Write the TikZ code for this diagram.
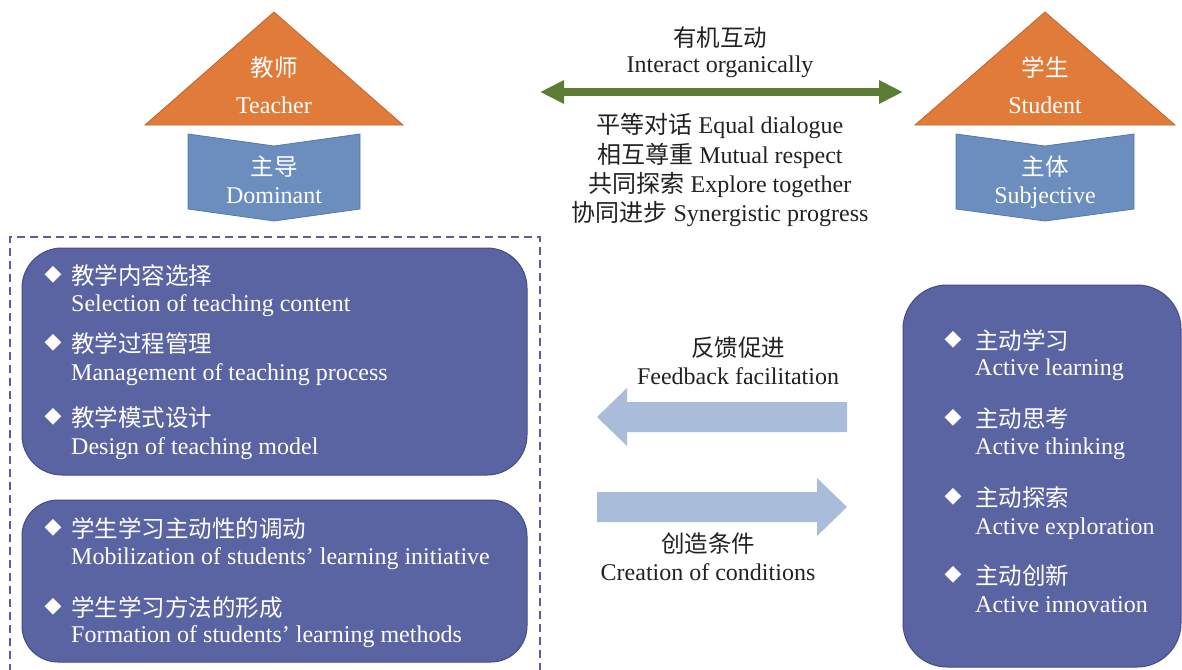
\documentclass[tikz,border=0pt]{standalone}
\usepackage{fontspec}
\setmainfont{Liberation Serif}
\newfontfamily\cjk{Noto Sans CJK SC}
\newfontfamily\symf{DejaVu Sans}
\usetikzlibrary{arrows.meta}
\definecolor{triorange}{HTML}{E07B39}
\definecolor{triedge}{HTML}{C0652E}
\definecolor{chevblue}{HTML}{6C8EBF}
\definecolor{chevedge}{HTML}{5878AA}
\definecolor{boxblue}{HTML}{5B64A3}
\definecolor{boxedge}{HTML}{454C86}
\definecolor{lightarrow}{HTML}{A9BCDA}
\definecolor{olive}{HTML}{5E7D34}
\definecolor{dashcol}{HTML}{5B5F99}
\definecolor{txt}{HTML}{222222}
\begin{document}
\begin{tikzpicture}[x=1pt,y=-1pt,
  en/.style={font=\fontsize{24}{28}\selectfont, inner sep=0pt, text=txt},
  zh/.style={font=\cjk\fontsize{23.5}{28}\selectfont, inner sep=0pt, text=txt},
  wen/.style={en, text=white},
  wzh/.style={zh, text=white},
  dia/.style={font=\symf\fontsize{22}{24}\selectfont, inner sep=0pt, text=white},
  tribox/.style={fill=triorange, draw=triedge, line width=0.8pt},
  chevbox/.style={fill=chevblue, draw=chevedge, line width=0.8pt},
  panel/.style={fill=boxblue, draw=boxedge, line width=1pt, inner sep=0pt},
  bigarrow/.style={fill=lightarrow},
]
\useasboundingbox (0,0) rectangle (1182,669);

% Teacher
\fill[tribox] (274,12) -- (403,125) -- (145,125) -- cycle;
\node[wzh, anchor=base] (tzh) at (274,76) {教师};
\node[wen, anchor=base] (ten) at (274,113) {Teacher};
\fill[chevbox] (188,134) -- (274,146) -- (360,134) -- (360,209) -- (274,221) -- (188,209) -- cycle;
\node[wzh, anchor=base] (dzh) at (274,175) {主导};
\node[wen, anchor=base] (den) at (274,203) {Dominant};

% Student
\fill[tribox] (1045,12) -- (1175,125) -- (915,125) -- cycle;
\node[wzh, anchor=base] (szh) at (1045,76) {学生};
\node[wen, anchor=base] (sen) at (1045,113) {Student};
\fill[chevbox] (956,134) -- (1045,146) -- (1134,134) -- (1134,209) -- (1045,221) -- (956,209) -- cycle;
\node[wzh, anchor=base] (bzh) at (1045,175) {主体};
\node[wen, anchor=base] (ben) at (1045,203) {Subjective};

% interaction arrow
\coordinate (gl) at (540,92);
\coordinate (gr) at (903,92);
\draw[olive, line width=8pt, {Triangle[length=24pt,width=22pt]}-{Triangle[length=24pt,width=22pt]}] (gl) -- (gr);
\node[zh, anchor=base] (i1) at (720,46) {有机互动};
\node[en, anchor=base] (i2) at (720,73) {Interact organically};
\node[en, anchor=base] (c1) at (720,133) {{\cjk 平等对话} Equal dialogue};
\node[en, anchor=base] (c2) at (720,163) {{\cjk 相互尊重} Mutual respect};
\node[en, anchor=base] (c3) at (720,192) {{\cjk 共同探索} Explore together};
\node[en, anchor=base] (c4) at (720,221) {{\cjk 协同进步} Synergistic progress};

% dashed frame (open at bottom)
\draw[dashcol, line width=1.4pt, dash pattern=on 8pt off 5pt] (10,672) -- (10,237) -- (540,237) -- (540,672);

% teacher panels
\node[panel, rounded corners=40pt, minimum width=505pt, minimum height=227pt] (p1) at (274.5,361.5) {};
\node[panel, rounded corners=36pt, minimum width=505pt, minimum height=162pt] (p2) at (274.5,581) {};

\node[dia] (p1d1) at (53,275) {◆};
\node[wzh, anchor=base west] (p1z1) at (71,284) {教学内容选择};
\node[wen, anchor=base west] (p1e1) at (71,311) {Selection of teaching content};
\node[dia] (p1d2) at (53,343) {◆};
\node[wzh, anchor=base west] (p1z2) at (71,352) {教学过程管理};
\node[wen, anchor=base west] (p1e2) at (71,380) {Management of teaching process};
\node[dia] (p1d3) at (53,417) {◆};
\node[wzh, anchor=base west] (p1z3) at (71,426) {教学模式设计};
\node[wen, anchor=base west] (p1e3) at (71,454) {Design of teaching model};

\node[dia] (p2d1) at (53,528) {◆};
\node[wzh, anchor=base west] (p2z1) at (71,537) {学生学习主动性的调动};
\node[wen, anchor=base west] (p2e1) at (71,564) {Mobilization of students’ learning initiative};
\node[dia] (p2d2) at (53,607) {◆};
\node[wzh, anchor=base west] (p2z2) at (71,616) {学生学习方法的形成};
\node[wen, anchor=base west] (p2e2) at (71,642) {Formation of students’ learning methods};

% student panel
\node[panel, rounded corners=44pt, minimum width=278pt, minimum height=382pt] (p3) at (1042,476) {};
\node[dia] (p3d1) at (953,340) {◆};
\node[wzh, anchor=base west] (p3z1) at (975,349) {主动学习};
\node[wen, anchor=base west] (p3e1) at (975,375) {Active learning};
\node[dia] (p3d2) at (953,418) {◆};
\node[wzh, anchor=base west] (p3z2) at (975,427) {主动思考};
\node[wen, anchor=base west] (p3e2) at (975,454) {Active thinking};
\node[dia] (p3d3) at (953,497) {◆};
\node[wzh, anchor=base west] (p3z3) at (975,506) {主动探索};
\node[wen, anchor=base west] (p3e3) at (975,534) {Active exploration};
\node[dia] (p3d4) at (953,575) {◆};
\node[wzh, anchor=base west] (p3z4) at (975,584) {主动创新};
\node[wen, anchor=base west] (p3e4) at (975,612) {Active innovation};

% feedback arrows
\fill[bigarrow] (847,402) -- (627,402) -- (627,388) -- (597,417) -- (627,446) -- (627,432) -- (847,432) -- cycle;
\fill[bigarrow] (597,492) -- (817,492) -- (817,478) -- (847,507) -- (817,536) -- (817,522) -- (597,522) -- cycle;
\node[zh, anchor=base] (f1) at (738,356) {反馈促进};
\node[en, anchor=base] (f2) at (738,384) {Feedback facilitation};
\node[zh, anchor=base] (g1) at (708,552) {创造条件};
\node[en, anchor=base] (g2) at (708,580) {Creation of conditions};
\end{tikzpicture}
\end{document}
